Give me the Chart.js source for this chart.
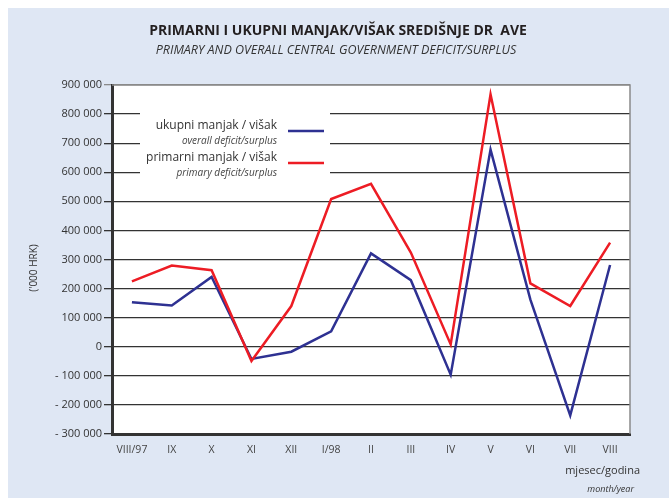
<!DOCTYPE html>
<html lang="hr">
<head>
  <meta charset="UTF-8" />
  <title>Primarni i ukupni manjak/višak</title>
  <script src="https://cdn.jsdelivr.net/npm/chart.js"></script>
  <style>
    html, body { margin: 0; padding: 0; background: #fff; }
    #wrap { width: 669px; height: 498px; position: relative; }
  </style>
</head>
<body>
  <div id="wrap"><canvas id="deficitChart" width="669" height="498"></canvas></div>

  <script>
    // mjeseci VIII/1997 - VIII/1998, u tisućama kuna
    const months = ['VIII/97', 'IX', 'X', 'XI', 'XII', 'I/98', 'II', 'III', 'IV', 'V', 'VI', 'VII', 'VIII'];
    const overall = [153000, 142000, 240000, -42000, -17000, 53000, 321000, 229000, -96000, 678000, 162000, -236000, 281000];
    const primary = [225000, 279000, 263000, -49000, 140000, 508000, 560000, 324000, 8000, 868000, 218000, 140000, 358000];
    const yTicks = [-300000, -200000, -100000, 0, 100000, 200000, 300000, 400000, 500000, 600000, 700000, 800000, 900000];

    const BLUE = '#2e3192';
    const RED = '#ed1c24';
    const FONT = '"Open Sans", sans-serif';

    function fmt(v) {
      if (v === 0) return '0';
      const s = Math.abs(v).toString().replace(/\B(?=(\d{3})+(?!\d))/g, ' ');
      return v < 0 ? '- ' + s : s;
    }

    // pozadina, naslovi i opisi osi
    const frame = {
      id: 'frame',
      beforeDraw(chart) {
        const c = chart.ctx;
        c.save();
        c.fillStyle = '#fff';
        c.fillRect(0, 0, chart.width, chart.height);
        c.fillStyle = '#dfe7f4';
        c.fillRect(8, 8, chart.width - 8, chart.height - 8);
        const a = chart.chartArea;
        c.fillStyle = '#fff';
        c.fillRect(a.left, a.top, a.right - a.left, a.bottom - a.top);

        c.fillStyle = '#231f20';
        c.textAlign = 'center';
        c.textBaseline = 'middle';
        c.font = 'bold 14px ' + FONT;
        c.fillText('PRIMARNI I UKUPNI MANJAK/VIŠAK SREDIŠNJE DR  AVE', 338, 31);
        c.fillStyle = '#333';
        c.font = 'italic 12.5px ' + FONT;
        c.fillText('PRIMARY AND OVERALL CENTRAL GOVERNMENT DEFICIT/SURPLUS', 336, 50);

        c.font = '10px ' + FONT;
        c.translate(34, 268);
        c.rotate(-Math.PI / 2);
        c.fillText("('000 HRK)", 0, 0);
        c.restore();

        c.save();
        c.fillStyle = '#333';
        c.textAlign = 'right';
        c.textBaseline = 'middle';
        c.font = '11px ' + FONT;
        c.fillText('mjesec/godina', 640, 471);
        c.font = 'italic 9px ' + FONT;
        c.fillText('month/year', 634, 489);
        c.restore();
      },
      beforeDatasetsDraw(chart) {
        const c = chart.ctx;
        const a = chart.chartArea;
        c.save();
        // gornji i desni rub
        c.strokeStyle = '#8a8a8a';
        c.lineWidth = 1.5;
        c.beginPath();
        c.moveTo(a.left, a.top);
        c.lineTo(a.right, a.top);
        c.lineTo(a.right, a.bottom);
        c.stroke();

        // legenda
        c.fillStyle = '#fff';
        c.fillRect(140, a.top + 4, 190, 102);
        const items = [
          { hr: 'ukupni manjak / višak', en: 'overall deficit/surplus', color: BLUE, y: 126 },
          { hr: 'primarni manjak / višak', en: 'primary deficit/surplus', color: RED, y: 158 }
        ];
        c.textAlign = 'right';
        c.textBaseline = 'middle';
        items.forEach(it => {
          c.fillStyle = '#333';
          c.font = '12px ' + FONT;
          c.fillText(it.hr, 277, it.y);
          c.fillStyle = '#444';
          c.font = 'italic 10px ' + FONT;
          c.fillText(it.en, 277, it.y + 15);
          c.strokeStyle = it.color;
          c.lineWidth = 2.5;
          c.beginPath();
          c.moveTo(288, it.y + 5);
          c.lineTo(324, it.y + 5);
          c.stroke();
        });
        c.restore();
      }
    };

    const ctx = document.getElementById('deficitChart').getContext('2d');
    new Chart(ctx, {
      type: 'line',
      data: {
        labels: months,
        datasets: [
          { label: 'primarni manjak / višak', data: primary, borderColor: RED, borderWidth: 2.5, pointRadius: 0, tension: 0 },
          { label: 'ukupni manjak / višak', data: overall, borderColor: BLUE, borderWidth: 2.5, pointRadius: 0, tension: 0 }
        ]
      },
      options: {
        responsive: false,
        animation: false,
        layout: { padding: { left: 0, right: 39, top: 85, bottom: 0 } },
        plugins: { legend: { display: false }, tooltip: { enabled: false } },
        scales: {
          x: {
            offset: true,
            grid: { display: false },
            border: { display: true, color: '#333', width: 3 },
            ticks: { color: '#444', font: { family: FONT, size: 10.5 }, padding: 2, maxRotation: 0, autoSkip: false },
            afterFit(scale) { scale.height = 64; }
          },
          y: {
            min: -300000,
            max: 900000,
            afterBuildTicks(scale) { scale.ticks = yTicks.map(v => ({ value: v })); },
            grid: {
              color: ctx => ctx.tick && ctx.tick.value === 900000 ? '#8a8a8a' : '#333',
              lineWidth: 1.3,
              tickLength: 8
            },
            border: { display: true, color: '#333', width: 3 },
            ticks: { color: '#333', font: { family: FONT, size: 11 }, padding: 2, callback: v => fmt(v) },
            afterFit(scale) { scale.width = 112; }
          }
        }
      },
      plugins: [frame]
    });
  </script>
</body>
</html>
